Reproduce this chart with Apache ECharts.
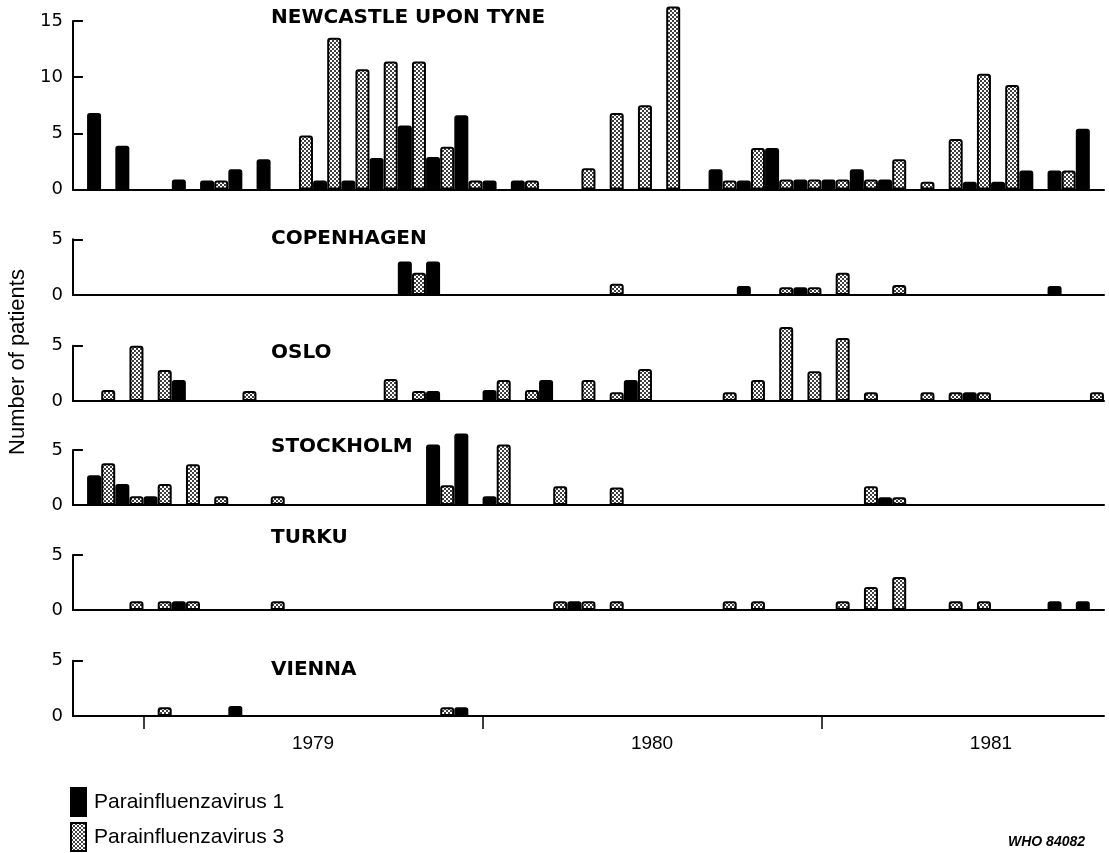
<!DOCTYPE html>
<html><head><meta charset="utf-8">
<script src="https://cdn.jsdelivr.net/npm/echarts@6/dist/echarts.min.js"></script>
<style>html,body{margin:0;padding:0;background:#fff}#c{width:1109px;height:853px}</style>
</head><body><div id="c"></div>
<script>
// Months Nov 1978 .. Oct 1981 (index 0..35)
const months = ['Nov 1978','Dec 1978',
  'Jan 1979','Feb 1979','Mar 1979','Apr 1979','May 1979','Jun 1979','Jul 1979','Aug 1979','Sep 1979','Oct 1979','Nov 1979','Dec 1979',
  'Jan 1980','Feb 1980','Mar 1980','Apr 1980','May 1980','Jun 1980','Jul 1980','Aug 1980','Sep 1980','Oct 1980','Nov 1980','Dec 1980',
  'Jan 1981','Feb 1981','Mar 1981','Apr 1981','May 1981','Jun 1981','Jul 1981','Aug 1981','Sep 1981','Oct 1981'];
const yearLabels = ['1979','1980','1981'];
const yearStartIndex = [2, 14, 26];
const cities = ['NEWCASTLE UPON TYNE','COPENHAGEN','OSLO','STOCKHOLM','TURKU','VIENNA'];
const seriesNames = ['Parainfluenzavirus 1','Parainfluenzavirus 3'];

const newcastlePIV1 = [6.8,3.9,0,0.9,0.8,1.8,2.7,0,0.8,0.8,2.8,5.7,2.9,6.6,0.8,0.8,0,0,0,0,0,0,1.8,0.8,3.7,0.9,0.9,1.8,0.9,0,0,0.7,0.7,1.7,1.7,5.4];
const newcastlePIV3 = [0,0,0,0,0.8,0,0,4.8,13.5,10.7,11.4,11.4,3.8,0.8,0,0.8,0,1.9,6.8,7.5,16.3,0,0.8,3.7,0.9,0.9,0.9,0.9,2.7,0.7,4.5,10.3,9.3,0,1.7,0];
const copenhagenPIV1 = [0,0,0,0,0,0,0,0,0,0,0,3,3,0,0,0,0,0,0,0,0,0,0,0.8,0,0.7,0,0,0,0,0,0,0,0,0.8,0];
const copenhagenPIV3 = [0,0,0,0,0,0,0,0,0,0,0,2,0,0,0,0,0,0,1,0,0,0,0,0,0.7,0.7,2,0,0.9,0,0,0,0,0,0,0];
const osloPIV1 = [0,0,0,1.9,0,0,0,0,0,0,0,0,0.9,0,1,0,1.9,0,0,1.9,0,0,0,0,0,0,0,0,0,0,0,0.8,0,0,0,0];
const osloPIV3 = [1,5,2.8,0,0,0.9,0,0,0,0,2,0.9,0,0,1.9,1,0,1.9,0.8,2.9,0,0,0.8,1.9,6.7,2.7,5.7,0.8,0,0.8,0.8,0.8,0,0,0,0.8];
const stockholmPIV1 = [2.7,1.9,0.8,0,0,0,0,0,0,0,0,0,5.5,6.5,0.8,0,0,0,0,0,0,0,0,0,0,0,0,0,0.7,0,0,0,0,0,0,0];
const stockholmPIV3 = [3.8,0.8,1.9,3.7,0.8,0,0.8,0,0,0,0,0,1.8,0,5.5,0,1.7,0,1.6,0,0,0,0,0,0,0,0,1.7,0.7,0,0,0,0,0,0,0];
const turkuPIV1 = [0,0,0,0.8,0,0,0,0,0,0,0,0,0,0,0,0,0,0.8,0,0,0,0,0,0,0,0,0,0,0,0,0,0,0,0,0.8,0.8];
const turkuPIV3 = [0,0.8,0.8,0.8,0,0,0.8,0,0,0,0,0,0,0,0,0,0.8,0.8,0.8,0,0,0,0.8,0.8,0,0,0.8,2.1,3.0,0,0.8,0.8,0,0,0,0];
const viennaPIV1 = [0,0,0,0,0,0.9,0,0,0,0,0,0,0,0.8,0,0,0,0,0,0,0,0,0,0,0,0,0,0,0,0,0,0,0,0,0,0];
const viennaPIV3 = [0,0,0.8,0,0,0,0,0,0,0,0,0,0.8,0,0,0,0,0,0,0,0,0,0,0,0,0,0,0,0,0,0,0,0,0,0,0];

const piv1 = [newcastlePIV1, copenhagenPIV1, osloPIV1, stockholmPIV1, turkuPIV1, viennaPIV1];
const piv3 = [newcastlePIV3, copenhagenPIV3, osloPIV3, stockholmPIV3, turkuPIV3, viennaPIV3];
const yMax = [15, 5, 5, 5, 5, 5];

// layout (pixels)
const panelTop = [21, 239.3, 345.7, 450, 555, 660.7];
const panelBase = [189.5, 295, 401, 505, 610, 716];
const titleCenter = [18, 239, 353, 447, 538, 670];

// stipple pattern for PIV3
const pat = document.createElement('canvas');
pat.width = 4; pat.height = 4;
const pc = pat.getContext('2d');
pc.fillStyle = '#fff'; pc.fillRect(0,0,4,4);
pc.fillStyle = '#000';
pc.beginPath(); pc.arc(1,1,1.0,0,Math.PI*2); pc.fill();
pc.beginPath(); pc.arc(3,3,1.0,0,Math.PI*2); pc.fill();

const FONT = 'DejaVu Sans';
const grids = [], xAxes = [], yAxes = [], series = [], titles = [];
for (let i = 0; i < 6; i++) {
  grids.push({left: 72.9, right: 5.0, top: panelTop[i], height: panelBase[i] - panelTop[i]});
  const last = i === 5;
  xAxes.push({
    gridIndex: i, type: 'value', min: -0.5, max: 36,
    axisLine: {show: true, onZero: false, lineStyle: {color: '#000', width: 2}},
    axisTick: {show: last, customValues: yearStartIndex, length: 13, inside: false, lineStyle: {color: '#000', width: 1.5}},
    axisLabel: {show: last, customValues: yearStartIndex.map(v => v + 6),
      formatter: v => yearLabels[Math.round((v - 8) / 12)],
      margin: 18, fontSize: 19, color: '#000', fontFamily: 'Liberation Sans'},
    splitLine: {show: false}
  });
  yAxes.push({
    gridIndex: i, type: 'value', min: 0, max: yMax[i], interval: 5,
    axisLine: {show: true, onZero: false, lineStyle: {color: '#000', width: 2}},
    axisTick: {show: true, inside: true, length: 10, lineStyle: {color: '#000', width: 2}},
    axisLabel: {fontSize: 18, color: '#000', fontFamily: FONT, margin: 10, padding: [0, 0, i === 0 ? 3 : 6, 0]},
    splitLine: {show: false}
  });
  series.push({
    name: seriesNames[0], type: 'bar', xAxisIndex: i, yAxisIndex: i,
    barWidth: 14, barGap: '-100%', clip: false, animation: false,
    itemStyle: {color: '#000', borderColor: '#000', borderWidth: 1.5, borderRadius: [2, 2, 0, 0]},
    data: piv1[i].map((v, m) => v > 0 ? [m + 0.25, v] : null).filter(Boolean)
  });
  series.push({
    name: seriesNames[1], type: 'bar', xAxisIndex: i, yAxisIndex: i,
    barWidth: 14, barGap: '-100%', clip: false, animation: false,
    itemStyle: {color: {image: pat, repeat: 'repeat'}, borderColor: '#000', borderWidth: 2, borderRadius: [2, 2, 0, 0]},
    data: piv3[i].map((v, m) => v > 0 ? [m + 0.75, v] : null).filter(Boolean)
  });
  titles.push({text: cities[i], left: 271, top: titleCenter[i] - 10, padding: 0,
    textStyle: {fontFamily: FONT, fontWeight: 'bold', fontSize: 20, lineHeight: 20, color: '#000'}});
}
titles.push({text: 'WHO 84082', left: 1008, top: 834, padding: 0,
  textStyle: {fontFamily: 'Liberation Sans', fontWeight: 'bold', fontStyle: 'italic', fontSize: 14, lineHeight: 16, color: '#000'}});

const chart = echarts.init(document.getElementById('c'), null, {renderer: 'canvas'});
chart.setOption({
  animation: false,
  backgroundColor: '#fff',
  title: titles,
  grid: grids, xAxis: xAxes, yAxis: yAxes, series: series,
  legend: {
    data: seriesNames, left: 70, top: 787, height: 70, orient: 'vertical', padding: 0,
    itemWidth: 15, itemHeight: 28, itemGap: 5, icon: 'rect',
    textStyle: {fontSize: 21, fontFamily: 'Liberation Sans', color: '#000', padding: [0, 0, 0, 3]}
  },
  graphic: [{
    type: 'text', x: 18, y: 362, rotation: Math.PI / 2,
    style: {text: 'Number of patients', fontSize: 22, fontFamily: 'Liberation Sans', fill: '#000', align: 'center', verticalAlign: 'middle'}
  }]
});
</script></body></html>
